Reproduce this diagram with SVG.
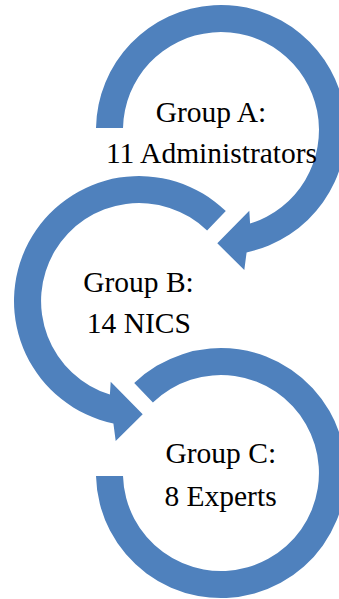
<svg xmlns="http://www.w3.org/2000/svg" width="339" height="599" viewBox="0 0 339 599">
<style>
.arc{fill:#4F81BD;stroke:none}
.lbl{font-family:"Liberation Serif","Times New Roman",serif;font-size:29.5px;fill:#000;text-anchor:middle}
</style>
<rect width="339" height="599" fill="#fff"/>
<g id="connectors">
<path id="arrowA" class="arc" d="M96,128 A125,125 0 1 1 246.6,252.4 L244.3,270 L217.3,243.3 L249.3,210.7 L250.1,223.6 A98,98 0 1 0 123,128 Z"/>
<path id="arrowB" class="arc" d="M225.8,211.1 A125,125 0 1 0 113.4,423.4 L115.7,441 L142.7,414.3 L110.7,381.7 L109.9,394.6 A98,98 0 1 1 207.1,230.5 Z"/>
<path id="arcC" class="arc" d="M96,476 A125,125 0 1 0 134.2,383.1 L152.9,402.5 A98,98 0 1 1 123,476 Z"/>
</g>
<g id="nodeA">
<text class="lbl" x="211" y="121.7">Group A:</text>
<text class="lbl" x="211.5" y="163.3">11 Administrators</text>
</g>
<g id="nodeB">
<text class="lbl" x="138.5" y="291.7">Group B:</text>
<text class="lbl" x="138.8" y="333.3">14 NICS</text>
</g>
<g id="nodeC">
<text class="lbl" x="220.8" y="463.3">Group C:</text>
<text class="lbl" x="220.5" y="505.7">8 Experts</text>
</g>
</svg>
